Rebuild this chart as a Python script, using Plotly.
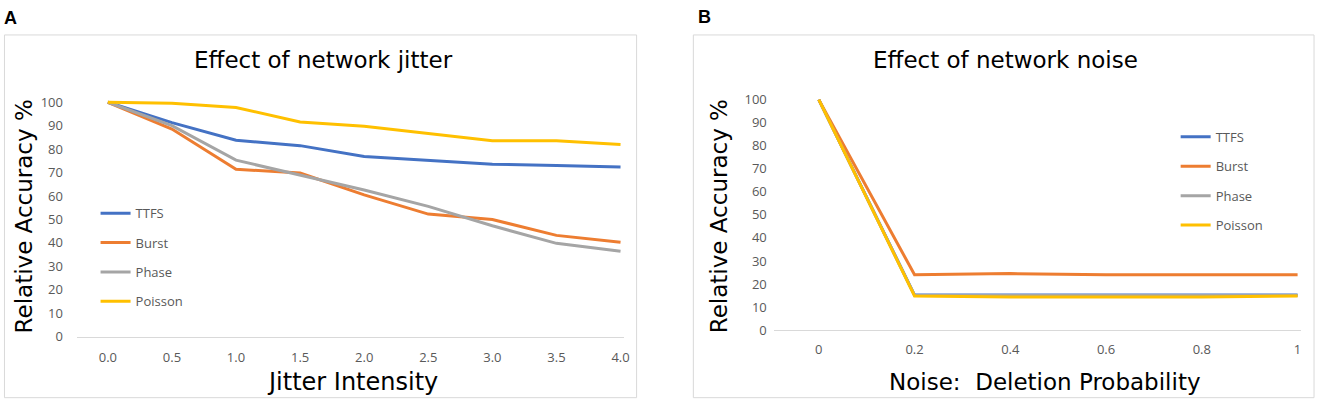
import plotly.graph_objects as go

# ---------------- data ----------------
series_names = ["TTFS", "Burst", "Phase", "Poisson"]
colors = ["#4472C4", "#ED7D31", "#A5A5A5", "#FFC000"]

jitter_x = [0.0, 0.5, 1.0, 1.5, 2.0, 2.5, 3.0, 3.5, 4.0]
jitter_tick_labels = ["0.0", "0.5", "1.0", "1.5", "2.0", "2.5", "3.0", "3.5", "4.0"]
jitter_ttfs = [100, 91.3, 83.8, 81.5, 76.9, 75.2, 73.6, 73.0, 72.4]
jitter_burst = [100, 88.6, 71.4, 69.8, 60.5, 52.3, 50.0, 43.2, 40.3]
jitter_phase = [100, 90.0, 75.3, 68.8, 62.6, 55.6, 47.3, 39.8, 36.4]
jitter_poisson = [100, 99.6, 97.8, 91.6, 89.8, 86.6, 83.6, 83.6, 82.0]

noise_x = [0, 0.2, 0.4, 0.6, 0.8, 1.0]
noise_tick_labels = ["0", "0.2", "0.4", "0.6", "0.8", "1"]
noise_ttfs = [100, 15.2, 15.2, 15.2, 15.2, 15.2]
noise_burst = [100, 24.0, 24.5, 24.0, 24.0, 24.0]
noise_phase = [100, 15.0, 15.0, 15.0, 15.0, 15.0]
noise_poisson = [100, 14.8, 14.3, 14.3, 14.3, 14.8]

y_ticks = list(range(0, 101, 10))

jitter_series = [jitter_ttfs, jitter_burst, jitter_phase, jitter_poisson]
noise_series = [noise_ttfs, noise_burst, noise_phase, noise_poisson]

W, H = 1325, 412
FONT = "Open Sans"
TITLE_FONT = "DejaVu Sans"
TICK_COLOR = "#595959"


def px(x):
    return x / W


def py(y):
    return 1 - y / H


fig = go.Figure()

for name, col, ys in zip(series_names, colors, jitter_series):
    fig.add_trace(go.Scatter(
        x=jitter_x, y=ys, mode="lines", name=name,
        line=dict(color=col, width=3),
        xaxis="x", yaxis="y", legend="legend", legendgroup="a_" + name,
    ))

for name, col, ys in zip(series_names, colors, noise_series):
    fig.add_trace(go.Scatter(
        x=noise_x, y=ys, mode="lines", name=name,
        line=dict(color=col, width=3),
        xaxis="x2", yaxis="y2", legend="legend2", legendgroup="b_" + name,
    ))

axis_common = dict(
    showgrid=False, zeroline=False, ticks="",
    tickfont=dict(family=FONT, size=13, color=TICK_COLOR),
)

fig.update_layout(
    width=W, height=H,
    margin=dict(l=0, r=0, t=0, b=0),
    paper_bgcolor="white", plot_bgcolor="white",
    font=dict(family=FONT, color="#000000"),
    xaxis=dict(
        domain=[px(77.3), px(626.7)], range=[-0.241, 4.026],
        tickvals=jitter_x, ticktext=jitter_tick_labels,
        showline=True, linecolor="#D9D9D9", linewidth=1,
        ticklabelstandoff=9, anchor="y", **axis_common,
    ),
    yaxis=dict(
        domain=[py(343.3), py(95.85)], range=[0, 102],
        tickvals=y_ticks, showline=False, ticklabelstandoff=13,
        anchor="x", **axis_common,
    ),
    xaxis2=dict(
        domain=[px(777.3), px(1307)], range=[-0.094, 1.0073],
        tickvals=noise_x, ticktext=noise_tick_labels,
        showline=True, linecolor="#D9D9D9", linewidth=1,
        ticklabelstandoff=7, anchor="y2", **axis_common,
    ),
    yaxis2=dict(
        domain=[py(336.5), py(93.2)], range=[0, 102],
        tickvals=y_ticks, showline=False, ticklabelstandoff=6,
        anchor="x2", **axis_common,
    ),
    legend=dict(
        x=px(96), y=py(200), xanchor="left", yanchor="top",
        bgcolor="rgba(0,0,0,0)", borderwidth=0,
        font=dict(family=FONT, size=13, color=TICK_COLOR),
        tracegroupgap=9.5, traceorder="grouped", itemwidth=30,
    ),
    legend2=dict(
        x=px(1181), y=py(121), xanchor="left", yanchor="top",
        bgcolor="rgba(0,0,0,0)", borderwidth=0,
        font=dict(family=FONT, size=13, color=TICK_COLOR),
        tracegroupgap=9.5, traceorder="grouped", itemwidth=30,
    ),
    showlegend=True,
)

# panel borders
fig.add_shape(type="rect", xref="paper", yref="paper",
              x0=px(4.5), x1=px(639.5), y0=py(406.5), y1=py(31),
              line=dict(color="#D9D9D9", width=1), layer="below")
fig.add_shape(type="rect", xref="paper", yref="paper",
              x0=px(696.5), x1=px(1320), y0=py(406.5), y1=py(31),
              line=dict(color="#D9D9D9", width=1), layer="below")

annotations = [
    # panel letters
    dict(text="<b>A</b>", x=px(2), y=py(13), xanchor="left", yanchor="middle",
         font=dict(family="Liberation Sans", size=18, color="black")),
    dict(text="<b>B</b>", x=px(699), y=py(12), xanchor="left", yanchor="middle",
         font=dict(family="Liberation Sans", size=18, color="black")),
    # chart titles
    dict(text="Effect of network jitter", x=px(325), y=py(57), xanchor="center", yanchor="middle",
         font=dict(family=TITLE_FONT, size=23, color="black")),
    dict(text="Effect of network noise", x=px(1010), y=py(57), xanchor="center", yanchor="middle",
         font=dict(family=TITLE_FONT, size=23, color="black")),
    # axis titles
    dict(text="Jitter Intensity", x=px(354), y=py(390), xanchor="center", yanchor="middle",
         font=dict(family=TITLE_FONT, size=24, color="black")),
    dict(text="Noise:  Deletion Probability", x=px(1050), y=py(390), xanchor="center", yanchor="middle",
         font=dict(family=TITLE_FONT, size=23, color="black")),
    dict(text="Relative Accuracy %", x=px(24), y=py(219), xanchor="center", yanchor="middle",
         textangle=-90, font=dict(family=TITLE_FONT, size=23, color="black")),
    dict(text="Relative Accuracy %", x=px(722), y=py(219), xanchor="center", yanchor="middle",
         textangle=-90, font=dict(family=TITLE_FONT, size=23, color="black")),
]
for a in annotations:
    a.update(xref="paper", yref="paper", showarrow=False)
fig.update_layout(annotations=annotations)

post = (
    "var d=document.documentElement,b=document.body;"
    "d.style.margin='0';d.style.padding='0';d.style.overflow='hidden';d.style.height='412px';"
    "b.style.margin='0';b.style.padding='0';b.style.overflow='hidden';b.style.height='412px';"
    "var gd=document.getElementById('{plot_id}');"
    "gd.style.position='absolute';gd.style.left='0px';gd.style.top='0px';"
)

fig.write_html(
    "out.html",
    config={"displayModeBar": False},
    post_script=post,
)
